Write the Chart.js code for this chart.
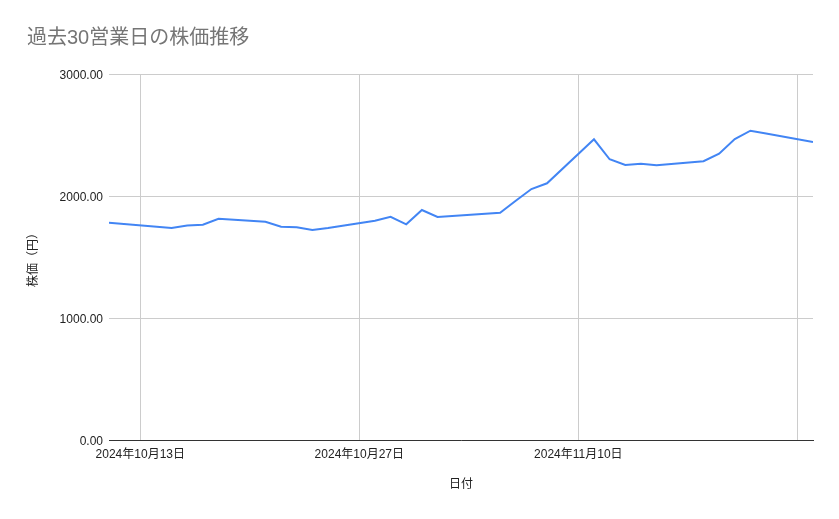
<!DOCTYPE html>
<html lang="ja">
<head>
<meta charset="utf-8">
<title>過去30営業日の株価推移</title>
<script src="https://cdn.jsdelivr.net/npm/chart.js@4"></script>
<style>
  html, body { margin: 0; padding: 0; background: #fff; }
  #wrap { width: 839px; height: 519px; position: relative; }
</style>
</head>
<body>
<div id="wrap"><canvas id="priceChart"></canvas></div>
<script>
// business days (Japan) and closing price
const dates = [
  '2024-10-11', '2024-10-15', '2024-10-16', '2024-10-17', '2024-10-18',
  '2024-10-21', '2024-10-22', '2024-10-23', '2024-10-24', '2024-10-25',
  '2024-10-28', '2024-10-29', '2024-10-30', '2024-10-31', '2024-11-01',
  '2024-11-05', '2024-11-06', '2024-11-07', '2024-11-08', '2024-11-11',
  '2024-11-12', '2024-11-13', '2024-11-14', '2024-11-15', '2024-11-18',
  '2024-11-19', '2024-11-20', '2024-11-21', '2024-11-22', '2024-11-25'
];
const prices = [
  1781, 1738, 1758, 1765, 1814,
  1789, 1748, 1744, 1721, 1738,
  1798, 1830, 1768, 1885, 1828,
  1863, 1961, 2057, 2104, 2465,
  2301, 2254, 2265, 2252, 2285,
  2347, 2467, 2535, 2512, 2443
];
const tickDates = ['2024-10-13', '2024-10-27', '2024-11-10', '2024-11-24'];
const yTicks = [0, 1000, 2000, 3000];

const DAY = 86400000;
const t0 = Date.parse(dates[0]);
const dayOf = d => (Date.parse(d) - t0) / DAY;
const jpDate = d => {
  const [y, m, dd] = d.split('-').map(Number);
  return y + '年' + m + '月' + dd + '日';
};

const points = dates.map((d, i) => ({ x: dayOf(d), y: prices[i] }));
const FONT = "Arial, 'Liberation Sans', 'Noto Sans CJK JP', sans-serif";

// chart title drawn at the top-left like the sheet chart
const titlePlugin = {
  id: 'sheetTitle',
  afterDraw(chart) {
    const ctx = chart.ctx;
    ctx.save();
    ctx.fillStyle = '#757575';
    ctx.font = "20px " + FONT;
    ctx.textBaseline = 'middle';
    ctx.fillText('過去30営業日の株価推移', 27, 38);
    ctx.restore();
  }
};

new Chart(document.getElementById('priceChart'), {
  type: 'line',
  data: {
    datasets: [{
      label: '株価',
      data: points,
      borderColor: '#4285f4',
      borderWidth: 2,
      pointRadius: 0,
      tension: 0,
      fill: false
    }]
  },
  options: {
    responsive: true,
    maintainAspectRatio: false,
    animation: false,
    layout: { padding: { top: 74, right: 26, bottom: 0, left: 0 } },
    plugins: {
      legend: { display: false },
      tooltip: { enabled: false }
    },
    scales: {
      x: {
        type: 'linear',
        min: 0,
        max: dayOf(dates[dates.length - 1]),
        afterBuildTicks: s => { s.ticks = tickDates.map(d => ({ value: dayOf(d) })); },
        afterFit: s => { s.height = 79; },
        grid: { color: '#cccccc', drawTicks: false },
        border: { display: true, color: '#333333', width: 1 },
        ticks: {
          padding: 7,
          color: '#222222',
          font: { family: FONT, size: 12 },
          maxRotation: 0,
          autoSkip: false,
          callback: (v, i) => i === tickDates.length - 1 ? '' : jpDate(tickDates[i])
        },
        title: {
          display: true,
          text: '日付',
          color: '#222222',
          font: { family: FONT, size: 12 },
          padding: { top: 0, bottom: 27 }
        }
      },
      y: {
        min: 0,
        max: 3000,
        afterBuildTicks: s => { s.ticks = yTicks.map(v => ({ value: v })); },
        afterFit: s => { s.width = 109; },
        grid: { color: '#cccccc', drawTicks: false },
        border: { display: false },
        ticks: {
          padding: 6,
          labelOffset: 2,
          color: '#222222',
          font: { family: FONT, size: 12 },
          callback: v => v.toFixed(2)
        },
        title: {
          display: true,
          text: '株価（円）',
          color: '#222222',
          font: { family: FONT, size: 12 },
          padding: { top: 26, bottom: 0 }
        }
      }
    }
  },
  plugins: [titlePlugin]
});
</script>
</body>
</html>
